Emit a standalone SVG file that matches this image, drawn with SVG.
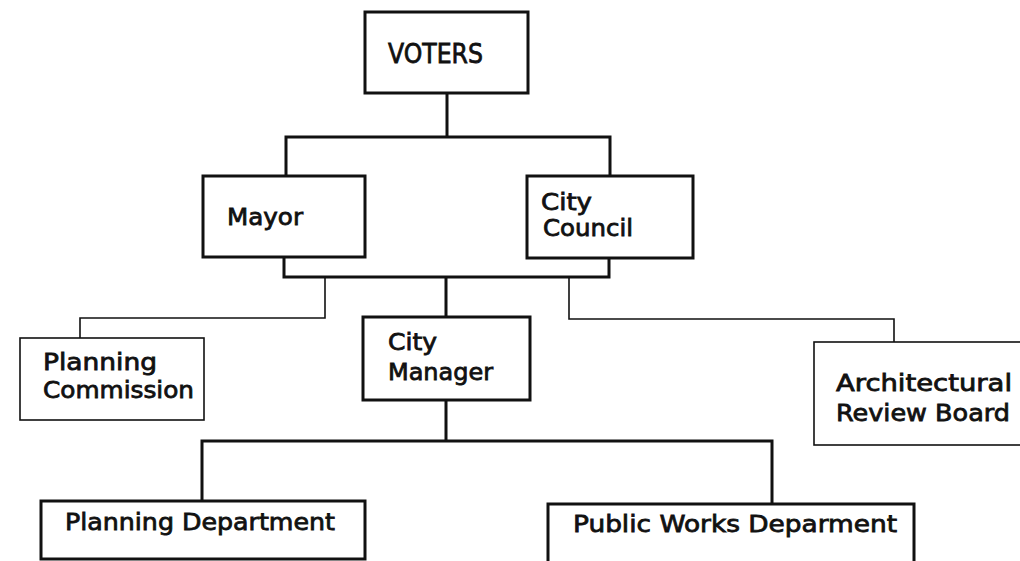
<svg xmlns="http://www.w3.org/2000/svg" width="1020" height="561" viewBox="0 0 1020 561">
<style>
.thick{fill:#fff;stroke:#111;stroke-width:3}
.thin{fill:#fff;stroke:#111;stroke-width:1.6}
.c{fill:none;stroke:#111;stroke-width:3;stroke-linecap:square}
.ct{fill:none;stroke:#111;stroke-width:1.6;stroke-linecap:square}
text{font-family:"DejaVu Sans","Liberation Sans",sans-serif;font-weight:normal;font-size:23.5px;fill:#111;stroke:#111;stroke-width:0.8}
.big{font-size:27px}
</style>
<rect width="1020" height="561" fill="#fff"/>
<g id="connectors">
<path class="c" d="M447 93V137M286 176V137H610V176"/>
<path class="c" d="M284 257V277H609V258M446 277V317"/>
<path class="ct" d="M325 277V318H80V338M569 277V319H894V342"/>
<path class="c" d="M446 400V441M202 501V441H772V504"/>
</g>
<g id="voters"><rect class="thick" x="365" y="12" width="163" height="81"/><text class="big" x="388" y="63" textLength="95" lengthAdjust="spacingAndGlyphs">VOTERS</text></g>
<g id="mayor"><rect class="thick" x="203" y="176" width="162" height="81"/><text x="227" y="225" textLength="76" lengthAdjust="spacingAndGlyphs">Mayor</text></g>
<g id="city-council"><rect class="thick" x="527" y="176" width="166" height="82"/><text x="541" y="210" textLength="51" lengthAdjust="spacingAndGlyphs">City</text><text x="543" y="236" textLength="90" lengthAdjust="spacingAndGlyphs">Council</text></g>
<g id="city-manager"><rect class="thick" x="363" y="317" width="167" height="83"/><text x="388" y="350" textLength="49" lengthAdjust="spacingAndGlyphs">City</text><text x="388" y="380" textLength="105" lengthAdjust="spacingAndGlyphs">Manager</text></g>
<g id="planning-commission"><rect class="thin" x="20" y="338" width="184" height="82"/><text x="43" y="370" textLength="114" lengthAdjust="spacingAndGlyphs">Planning</text><text x="43" y="398" textLength="151" lengthAdjust="spacingAndGlyphs">Commission</text></g>
<g id="architectural-review-board"><rect class="thin" x="814" y="342" width="215" height="103"/><text x="836" y="391" textLength="176" lengthAdjust="spacingAndGlyphs">Architectural</text><text x="836" y="421" textLength="174" lengthAdjust="spacingAndGlyphs">Review Board</text></g>
<g id="planning-department"><rect class="thick" x="41" y="501" width="324" height="58"/><text x="65" y="530" textLength="270" lengthAdjust="spacingAndGlyphs">Planning Department</text></g>
<g id="public-works"><rect class="thick" x="548" y="504" width="366" height="60"/><text x="573" y="532" textLength="324" lengthAdjust="spacingAndGlyphs">Public Works Deparment</text></g>
</svg>
